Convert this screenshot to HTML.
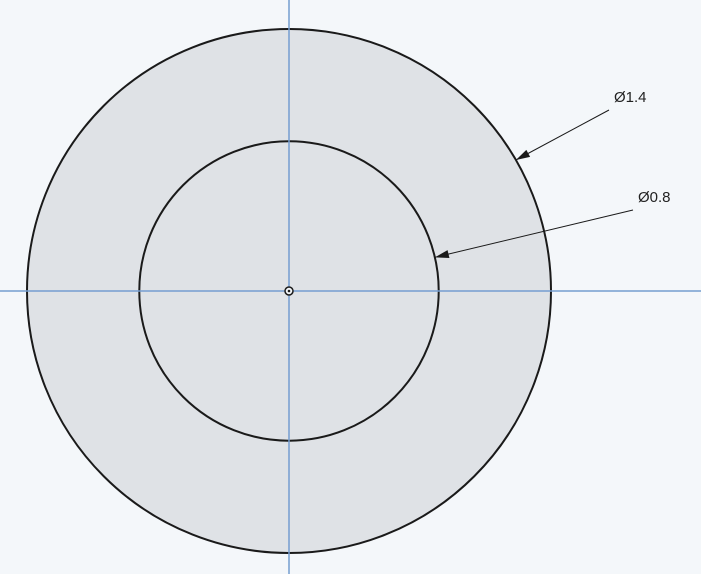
<!DOCTYPE html>
<html><head><meta charset="utf-8"><style>
html,body{margin:0;padding:0;background:#f4f7fa;}
svg{display:block;}
text{font-family:"Liberation Sans",sans-serif;font-size:15px;fill:#222;}
</style></head><body>
<svg id="c" width="701" height="574">
<rect width="701" height="574" fill="#f4f7fa"/>
</svg>
<script>
const diameters=[1.4,0.8];
const labels=["Ø1.4","Ø0.8"];
const leaderAngles=[-30,-13];
const cx=289,cy=291,scale=262/0.7;
const ns="http://www.w3.org/2000/svg";
const svg=document.getElementById('c');
function mk(t,a){const e=document.createElementNS(ns,t);for(const k in a)e.setAttribute(k,a[k]);svg.appendChild(e);return e;}
diameters.forEach((d,i)=>{
  const c=mk('circle',{cx:cx,cy:cy,r:d/2*scale,fill:i===0?'#dfe2e6':'none',stroke:'#1a1a1a','stroke-width':2});
  
  
});
const h=mk('line',{x1:0,y1:cy,x2:701,y2:cy,stroke:'#759dd0','stroke-width':1.5});


const v=mk('line',{x1:cx,y1:0,x2:cx,y2:574,stroke:'#759dd0','stroke-width':1.5});


const o1=mk('circle',{cx:cx,cy:cy,r:4,fill:'#f4f7fa',stroke:'#1a1a1a','stroke-width':1.5});


const o2=mk('circle',{cx:cx,cy:cy,r:1.3,fill:'#1a1a1a'});


const ends=[[609,110],[633,210]];
diameters.forEach((d,i)=>{
  const r=d/2*scale, a=leaderAngles[i]*Math.PI/180;
  const px=cx+r*Math.cos(a), py=cy+r*Math.sin(a);
  const [ex,ey]=ends[i];
  const ln=mk('line',{x1:px,y1:py,x2:ex,y2:ey,stroke:'#1a1a1a','stroke-width':1});
  
  
  const dx=ex-px,dy=ey-py,L=Math.hypot(dx,dy),ux=dx/L,uy=dy/L;
  const bx=px+ux*14,by=py+uy*14;
  const ar=mk('polygon',{points:`${px},${py} ${bx-uy*4},${by+ux*4} ${bx+uy*4},${by-ux*4}`,fill:'#1a1a1a'});
  
  
  const t=mk('text',{x:ex+5,y:ey-8});
  t.textContent=labels[i];
  
  
});
</script>
</body></html>
